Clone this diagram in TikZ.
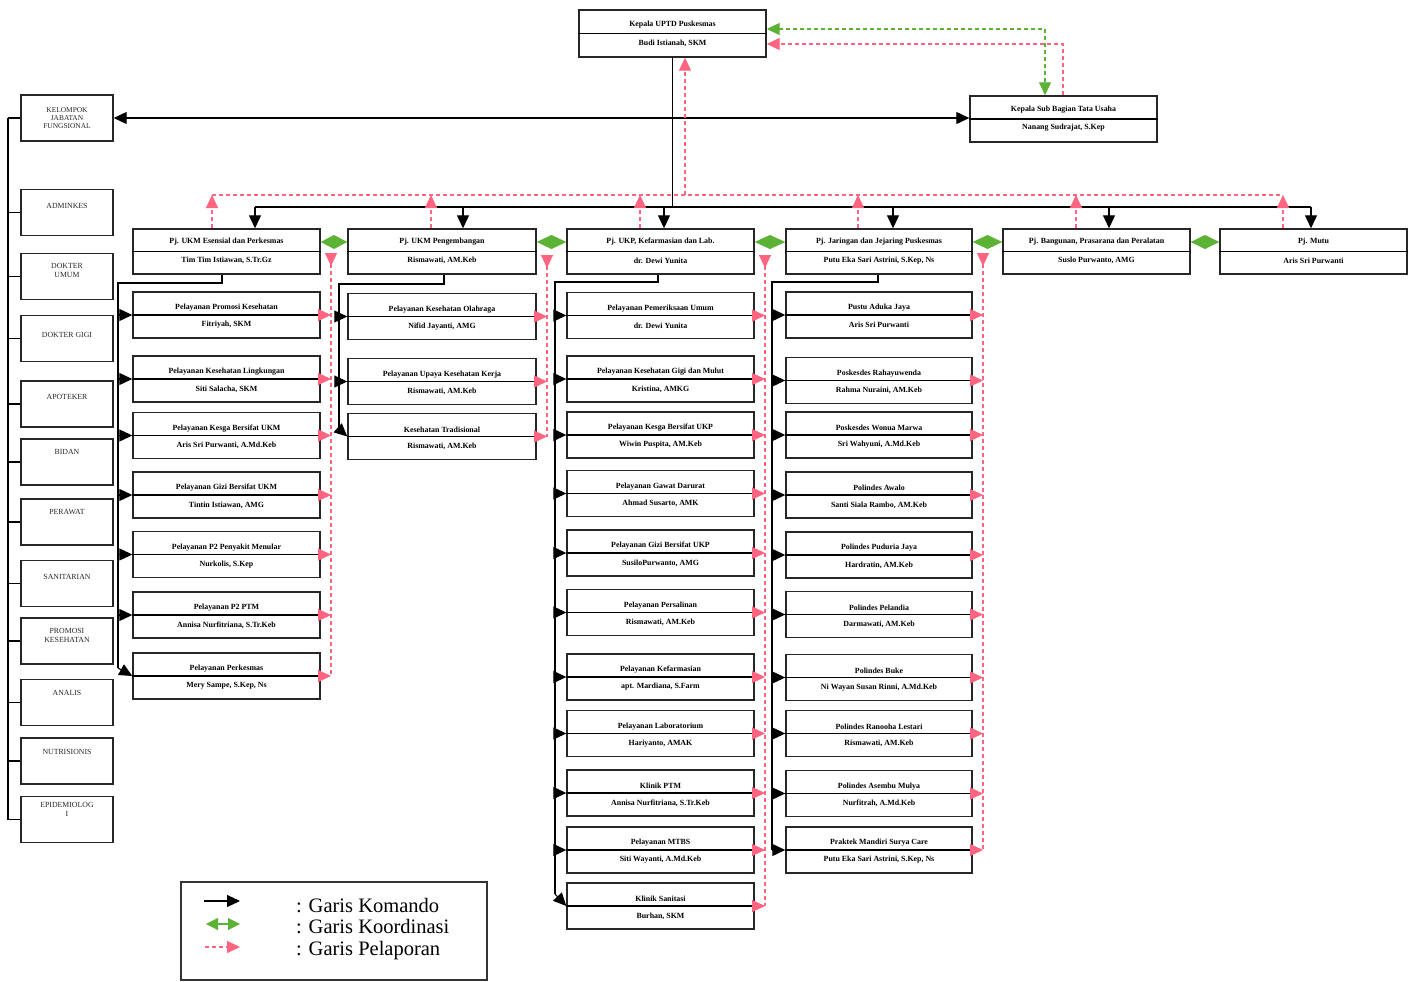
\documentclass[tikz,border=0pt]{standalone}
\usepackage{fontspec}
\setmainfont{Liberation Serif}
\usetikzlibrary{arrows.meta,calc}
\definecolor{repc}{RGB}{255,100,128}
\definecolor{crdc}{RGB}{92,178,52}
\tikzset{
  orgb/.style={draw=black!85, line width=1.4pt, inner sep=0pt, fill=white},
  btext/.style={font=\fontsize{7.9}{9}\selectfont\bfseries, inner sep=0pt, text=black},
  ftext/.style={font=\fontsize{7.8}{8.8}\selectfont, align=center, inner sep=0pt, text=black!85},
  cmd/.style={draw=black, line width=1.1pt},
  cmdarr/.style={cmd, -{Triangle[length=13pt,width=12pt]}},
  cmdboth/.style={cmd, {Triangle[length=13pt,width=12pt]}-{Triangle[length=13pt,width=12pt]}},
  repl/.style={draw=repc, line width=1.1pt, dash pattern=on 4pt off 3pt},
  reparr/.style={repl, -{Triangle[length=13pt,width=12pt]}},
  repdown/.style={repl, {Triangle[length=13pt,width=12pt,reversed]}-},
  crdl/.style={draw=crdc, line width=1.1pt, dash pattern=on 4pt off 3pt, {Triangle[length=13pt,width=12pt]}-{Triangle[length=13pt,width=12pt]}},
  crdd/.style={fill=crdc},
  legtext/.style={font=\fontsize{20.5}{24}\selectfont, inner sep=0pt, anchor=base west},
}
\newcommand\orgbox[9]{%
  \node[orgb, minimum width=#4pt, minimum height=#5pt] (#1) at (#2,#3) {};
  \draw[line width=1.1pt] (#1.west) -- (#1.east);
  \node[btext] (#1-t) at ($(#1.center)+(0,-#8)$) {#6};
  \node[btext] (#1-b) at ($(#1.center)+(0,#9)$) {#7};
}
\newcommand\funcbox[4]{%
  \node[orgb, minimum width=92pt, minimum height=46pt] (#1) at (67,#2) {};
  \node[ftext] (#1-t) at ($(#1.north)+(0,#3)$) {#4};
}
\begin{document}
\begin{tikzpicture}[x=1pt,y=-1pt]
\fill[white] (0,0) rectangle (1414,982);
\useasboundingbox (0,0) rectangle (1414,982);

% ---------- top ----------
\orgbox{TB}{672.5}{33.5}{187}{47}{Kepala UPTD Puskesmas}{Budi Istianah, SKM}{8.5}{9.5}
\orgbox{SB}{1063.5}{119}{187}{46}{Kepala Sub Bagian Tata Usaha}{Nanang Sudrajat, S.Kep}{9}{9}

% ---------- functional group ----------
\node[orgb, minimum width=92pt, minimum height=46pt] (K) at (67,118) {};
\node[ftext, font=\fontsize{7.4}{8.2}\selectfont] (K-t) at (K.center) {KELOMPOK\\JABATAN\\FUNGSIONAL};
\foreach \n/\y/\o/\t in {F1/212.5/17/ADMINKES, F2/276.5/18/{DOKTER\\UMUM}, F3/338.5/20/{DOKTER GIGI},
  F4/404/17/APOTEKER, F5/462/14/BIDAN, F6/522/14/PERAWAT, F7/583.5/17/SANITARIAN,
  F8/641/18/{PROMOSI\\KESEHATAN}, F9/702.5/14/ANALIS, F10/761/15/NUTRISIONIS, F11/819.5/14/{EPIDEMIOLOG\\I}}
  {\funcbox{\n}{\y}{\o}{\t}}
\coordinate (sp) at (8,0);
\draw[cmd] (sp |- K.west) -- (sp |- F11.west);
\foreach \n in {K,F1,F2,F3,F4,F5,F6,F7,F8,F9,F10,F11}
  {\draw[cmd] (sp |- \n.west) -- (\n.west);}
\draw[cmdboth] (K.east) -- (K.east -| SB.west);

% ---------- Pj boxes ----------
\orgbox{P1}{226.5}{251.5}{187}{45}{Pj. UKM Esensial dan Perkesmas}{Tim Tim Istiawan, S.Tr.Gz}{9.5}{9}
\orgbox{P2}{442}{251.5}{188}{45}{Pj. UKM Pengembangan}{Rismawati, AM.Keb}{9.5}{9}
\orgbox{P3}{660.5}{251.5}{187}{45}{Pj. UKP, Kefarmasian dan Lab.}{dr. Dewi Yunita}{9.5}{9}
\orgbox{P4}{879}{251.5}{186}{45}{Pj. Jaringan dan Jejaring Puskesmas}{Putu Eka Sari Astrini, S.Kep, Ns}{9.5}{9}
\orgbox{P5}{1096.5}{251.5}{187}{45}{Pj. Bangunan, Prasarana dan Peralatan}{Suslo Purwanto, AMG}{9.5}{9}
\orgbox{P6}{1313.5}{251.5}{187}{45}{Pj. Mutu}{Aris Sri Purwanti}{9.5}{9}

% ---------- column boxes ----------
\foreach \y/\t/\b [count=\i] in {
  315/{Pelayanan Promosi Kesehatan}/{Fitriyah, SKM},
  379/{Pelayanan Kesehatan Lingkungan}/{Siti Salacha, SKM},
  435.5/{Pelayanan Kesga Bersifat UKM}/{Aris Sri Purwanti, A.Md.Keb},
  495/{Pelayanan Gizi Bersifat UKM}/{Tintin Istiawan, AMG},
  554.5/{Pelayanan P2 Penyakit Menular}/{Nurkolis, S.Kep},
  615/{Pelayanan P2 PTM}/{Annisa Nurfitriana, S.Tr.Keb},
  676/{Pelayanan Perkesmas}/{Mery Sampe, S.Kep, Ns}}
  {\orgbox{c1-\i}{226.5}{\y}{187}{46}{\t}{\b}{7}{10}}
\foreach \y/\t/\b [count=\i] in {
  316.5/{Pelayanan Kesehatan Olahraga}/{Nifid Jayanti, AMG},
  381.5/{Pelayanan Upaya Kesehatan Kerja}/{Rismawati, AM.Keb},
  436.5/{Kesehatan Tradisional}/{Rismawati, AM.Keb}}
  {\orgbox{c2-\i}{442}{\y}{188}{46}{\t}{\b}{7}{10}}
\foreach \y/\t/\b [count=\i] in {
  315.5/{Pelayanan Pemeriksaan Umum}/{dr. Dewi Yunita},
  379/{Pelayanan Kesehatan Gigi dan Mulut}/{Kristina, AMKG},
  435/{Pelayanan Kesga Bersifat UKP}/{Wiwin Puspita, AM.Keb},
  493.5/{Pelayanan Gawat Darurat}/{Ahmad Susarto, AMK},
  553/{Pelayanan Gizi Bersifat UKP}/{SusiloPurwanto, AMG},
  612.5/{Pelayanan Persalinan}/{Rismawati, AM.Keb},
  677/{Pelayanan Kefarmasian}/{apt. Mardiana, S.Farm},
  733.5/{Pelayanan Laboratorium}/{Hariyanto, AMAK},
  793/{Klinik PTM}/{Annisa Nurfitriana, S.Tr.Keb},
  850/{Pelayanan MTBS}/{Siti Wayanti, A.Md.Keb},
  906/{Klinik Sanitasi}/{Burhan, SKM}}
  {\orgbox{c3-\i}{660.5}{\y}{187}{46}{\t}{\b}{7}{10}}
\foreach \y/\t/\b [count=\i] in {
  315/{Pustu Aduka Jaya}/{Aris Sri Purwanti},
  380.5/{Poskesdes Rahayuwenda}/{Rahma Nuraini, AM.Keb},
  435/{Poskesdes Wonua Marwa}/{Sri Wahyuni, A.Md.Keb},
  495/{Polindes Awalo}/{Santi Siala Rambo, AM.Keb},
  555/{Polindes Puduria Jaya}/{Hardratin, AM.Keb},
  614.5/{Polindes Pelandia}/{Darmawati, AM.Keb},
  677.5/{Polindes Buke}/{Ni Wayan Susan Rinni, A.Md.Keb},
  733.5/{Polindes Ranooha Lestari}/{Rismawati, AM.Keb},
  793.5/{Polindes Asembu Mulya}/{Nurfitrah, A.Md.Keb},
  850/{Praktek Mandiri Surya Care}/{Putu Eka Sari Astrini, S.Kep, Ns}}
  {\orgbox{c4-\i}{879}{\y}{186}{46}{\t}{\b}{7}{10}}

% ---------- command bus ----------
\coordinate (bd1) at (255,207);
\coordinate (bd2) at (463,207);
\coordinate (bd3) at (664,207);
\coordinate (bd4) at (893,207);
\coordinate (bd5) at (1109,207);
\coordinate (bd6) at (1311,207);
\draw[cmd] (TB.south) -- (TB.south |- bd1);
\draw[cmd] (bd1) -- (bd6);
\foreach \k in {1,...,6} {\draw[cmdarr] (bd\k) -- (bd\k |- P\k.north);}

% ---------- reporting bus ----------
\coordinate (pu1) at (212,195);
\coordinate (pu2) at (431,195);
\coordinate (pu3) at (640,195);
\coordinate (pu4) at (858,195);
\coordinate (pu5) at (1076,195);
\coordinate (pu6) at (1283,195);
\coordinate (pt) at (685,195);
\draw[repl] (pu1) -- (pu6);
\foreach \k in {1,...,6} {\draw[reparr] (pu\k |- P\k.north) -- (pu\k);}
\draw[reparr] (pt) -- (pt |- TB.south);

% ---------- TB <-> SB ----------
\coordinate (gc) at (1045,29);
\coordinate (pc) at (1063,44);
\draw[crdl] (TB.east |- gc) -| (gc |- SB.north);
\draw[reparr] (pc |- SB.north) |- (TB.east |- pc);

% ---------- coordination diamonds ----------
\foreach \a/\b in {1/2,2/3,3/4,4/5,5/6}
  {\fill[crdd] (P\a.east |- P\a-t.center) -- ($(P\a.east |- P\a-t.center)!0.5!(P\b.west |- P\a-t.center)+(0,-7)$)
     -- (P\b.west |- P\a-t.center) -- ($(P\a.east |- P\a-t.center)!0.5!(P\b.west |- P\a-t.center)+(0,7)$) -- cycle;}

% ---------- column feeds ----------
\coordinate (f1) at (222,283); \coordinate (v1) at (118,283); \coordinate (e1) at (118,668);
\coordinate (f2) at (444,284); \coordinate (v2) at (339,284); \coordinate (e2) at (339,429);
\coordinate (f3) at (658,282); \coordinate (v3) at (555,282); \coordinate (e3) at (555,894);
\coordinate (f4) at (878,282); \coordinate (v4) at (772,282); \coordinate (e4) at (772,850);
\draw[cmd] (f1 |- P1.south) -- (f1) -- (v1) -- (e1);
\draw[cmd] (f2 |- P2.south) -- (f2) -- (v2) -- (e2);
\draw[cmd] (f3 |- P3.south) -- (f3) -- (v3) -- (e3);
\draw[cmd] (f4 |- P4.south) -- (f4) -- (v4) -- (e4);
\foreach \i in {1,...,6} {\draw[cmdarr] (v1 |- c1-\i.west) -- (c1-\i.west);}
\draw[cmdarr] (e1) -- (c1-7.west);
\foreach \i in {1,2} {\draw[cmdarr] (v2 |- c2-\i.west) -- (c2-\i.west);}
\draw[cmdarr] (e2) -- (c2-3.west);
\foreach \i in {1,...,10} {\draw[cmdarr] (v3 |- c3-\i.west) -- (c3-\i.west);}
\draw[cmdarr] (e3) -- (c3-11.west);
\foreach \i in {1,...,10} {\draw[cmdarr] (v4 |- c4-\i.west) -- (c4-\i.west);}

% ---------- column reporting ----------
\coordinate (r1) at (331,253);
\coordinate (r2) at (547,255);
\coordinate (r3) at (765,255);
\coordinate (r4) at (983,253);
\draw[repdown] (r1) -- (r1 |- c1-7.east);
\draw[repdown] (r2) -- (r2 |- c2-3.east);
\draw[repdown] (r3) -- (r3 |- c3-11.east);
\draw[repdown] (r4) -- (r4 |- c4-10.east);
\foreach \i in {1,...,7} {\draw[reparr] (c1-\i.east) -- (r1 |- c1-\i.east);}
\foreach \i in {1,...,3} {\draw[reparr] (c2-\i.east) -- (r2 |- c2-\i.east);}
\foreach \i in {1,...,11} {\draw[reparr] (c3-\i.east) -- (r3 |- c3-\i.east);}
\foreach \i in {1,...,10} {\draw[reparr] (c4-\i.east) -- (r4 |- c4-\i.east);}

% ---------- legend ----------
\node[draw=black!80, line width=1.3pt, minimum width=306pt, minimum height=98pt, inner sep=0pt] (L) at (334,931) {};
\coordinate (la) at (204,901); \coordinate (lb) at (240,901);
\coordinate (lc) at (206,924); \coordinate (ld) at (240,924);
\coordinate (le) at (205,947); \coordinate (lf) at (240,947);
\draw[cmdarr] (la) -- (lb);
\draw[draw=crdc, line width=1.1pt, {Triangle[length=12pt,width=12pt]}-{Triangle[length=12pt,width=12pt]}] (lc) -- (ld);
\draw[reparr] (le) -- (lf);
\node[legtext] (L1) at (296,912) {: Garis Komando};
\node[legtext] (L2) at (296,933) {: Garis Koordinasi};
\node[legtext] (L3) at (296,955) {: Garis Pelaporan};
\end{tikzpicture}
\end{document}
